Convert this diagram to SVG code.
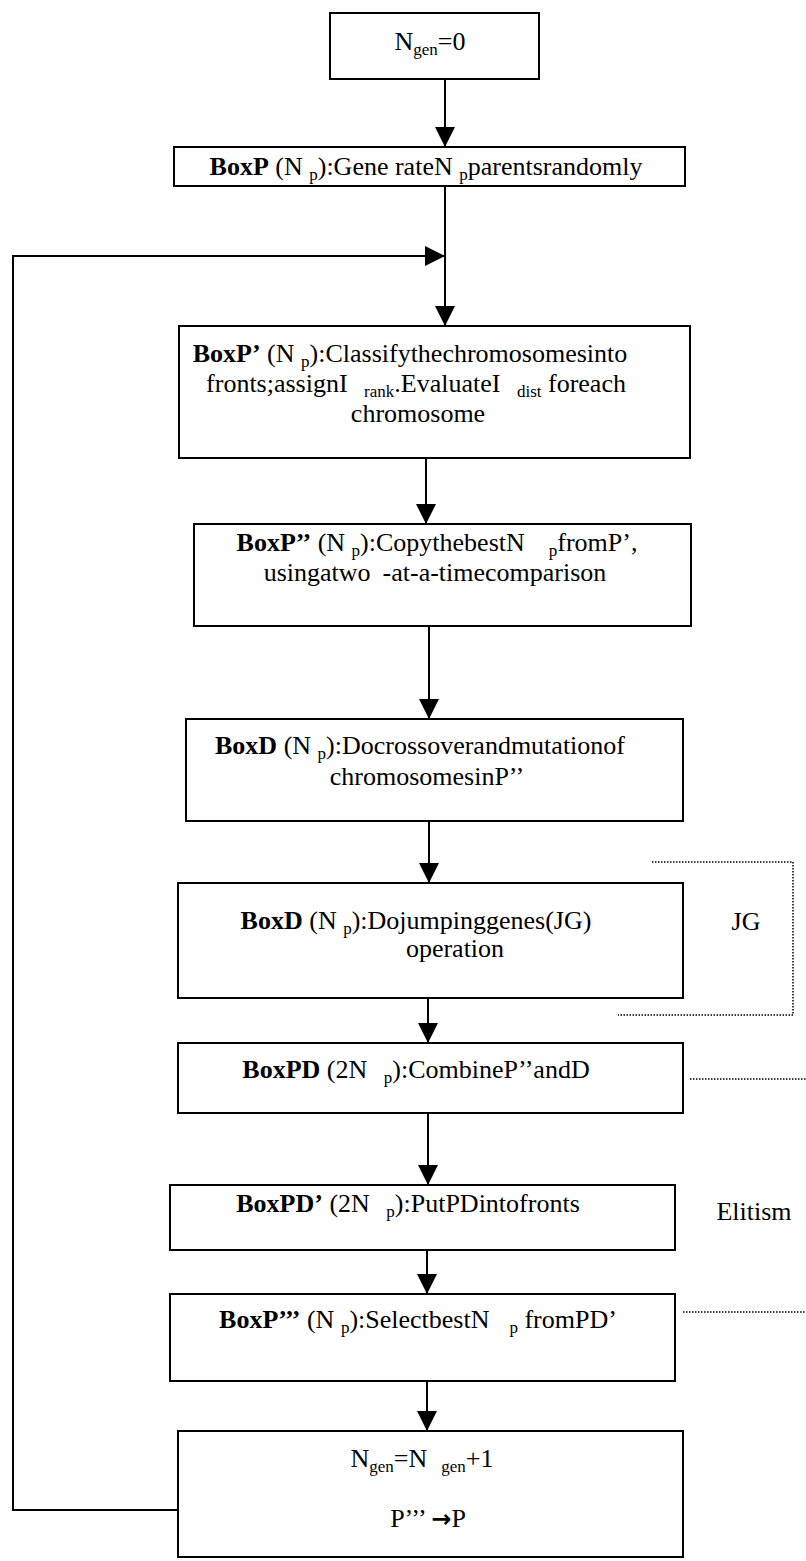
<svg xmlns="http://www.w3.org/2000/svg" width="806" height="1561" viewBox="0 0 806 1561">
<style>
.box{fill:#fff;stroke:#000;stroke-width:2}
.t{font-family:"Liberation Serif","Times New Roman",serif;font-size:26px;font-weight:normal;fill:#000}
.b{font-weight:bold}
.s{font-size:17px}
.arr{font-family:"DejaVu Sans",sans-serif;font-weight:bold;font-size:24px}
.ln{stroke:#000;stroke-width:2;fill:none}
.dot{stroke:#000;stroke-width:1.5;stroke-dasharray:1.5 1.5;fill:none}
</style>
<defs>
<marker id="ah" viewBox="0 0 20 20" refX="20" refY="10" markerWidth="20" markerHeight="20" markerUnits="userSpaceOnUse" orient="auto"><path d="M0,0 L20,10 L0,20 z" fill="#000"/></marker>
</defs>
<rect width="806" height="1561" fill="#fff"/>
<g id="connectors">
<path class="ln" d="M445,79 V147" marker-end="url(#ah)"/>
<path class="ln" d="M445,186 V326" marker-end="url(#ah)"/>
<path class="ln" d="M178,1510 H13 V256 H445" marker-end="url(#ah)"/>
<path class="ln" d="M426,458 V524" marker-end="url(#ah)"/>
<path class="ln" d="M429,626 V719" marker-end="url(#ah)"/>
<path class="ln" d="M429,821 V883" marker-end="url(#ah)"/>
<path class="ln" d="M428,998 V1043" marker-end="url(#ah)"/>
<path class="ln" d="M428,1113 V1185" marker-end="url(#ah)"/>
<path class="ln" d="M427,1250 V1294" marker-end="url(#ah)"/>
<path class="ln" d="M427,1381 V1431" marker-end="url(#ah)"/>
<path class="dot" d="M652,862 H793 V1015 H618"/>
<path class="dot" d="M690,1079 H806"/>
<path class="dot" d="M683,1312 H806"/>
</g>
<g id="n0">
<rect class="box" x="330" y="13" width="209" height="66"/>
<text class="t" x="430" y="50" text-anchor="middle">N<tspan class="s" dy="5">gen</tspan><tspan dy="-5">=0</tspan></text>
</g>
<g id="n1">
<rect class="box" x="174" y="147" width="511" height="39"/>
<text class="t" x="426" y="175" text-anchor="middle"><tspan class="b">BoxP</tspan> (N <tspan class="s" dy="5">p</tspan><tspan dy="-5">):Gene rateN </tspan><tspan class="s" dy="5">p</tspan><tspan dy="-5">parentsrandomly</tspan></text>
</g>
<g id="n2">
<rect class="box" x="179" y="326" width="511" height="132"/>
<text class="t" x="410" y="362" text-anchor="middle"><tspan class="b">BoxP’</tspan> (N <tspan class="s" dy="5">p</tspan><tspan dy="-5">):Classifythechromosomesinto</tspan></text>
<text class="t" x="416" y="392" text-anchor="middle">fronts;assignI <tspan class="s" dx="10" dy="5">rank</tspan><tspan dy="-5">.EvaluateI </tspan><tspan class="s" dx="10" dy="5">dist</tspan><tspan dy="-5"> foreach</tspan></text>
<text class="t" x="418" y="422" text-anchor="middle">chromosome</text>
</g>
<g id="n3">
<rect class="box" x="194" y="524" width="497" height="102"/>
<text class="t" x="437" y="551" text-anchor="middle"><tspan class="b">BoxP’’</tspan> (N <tspan class="s" dy="5">p</tspan><tspan dy="-5">):CopythebestN</tspan><tspan class="s" dx="24" dy="5">p</tspan><tspan dy="-5">fromP’,</tspan></text>
<text class="t" x="435" y="581" text-anchor="middle">usingatwo<tspan dx="12">-at-a-timecomparison</tspan></text>
</g>
<g id="n4">
<rect class="box" x="186" y="719" width="497" height="102"/>
<text class="t" x="420" y="754" text-anchor="middle"><tspan class="b">BoxD</tspan> (N <tspan class="s" dy="5">p</tspan><tspan dy="-5">):Docrossoverandmutationof</tspan></text>
<text class="t" x="427" y="785" text-anchor="middle">chromosomesinP’’</text>
</g>
<g id="n5">
<rect class="box" x="178" y="883" width="505" height="115"/>
<text class="t" x="416" y="929" text-anchor="middle"><tspan class="b">BoxD</tspan> (N <tspan class="s" dy="5">p</tspan><tspan dy="-5">):Dojumpinggenes(JG)</tspan></text>
<text class="t" x="455" y="957" text-anchor="middle">operation</text>
</g>
<g id="n6">
<rect class="box" x="178" y="1043" width="505" height="70"/>
<text class="t" x="416" y="1078" text-anchor="middle"><tspan class="b">BoxPD</tspan> (2N <tspan class="s" dx="10" dy="5">p</tspan><tspan dy="-5">):CombineP’’andD</tspan></text>
</g>
<g id="n7">
<rect class="box" x="170" y="1185" width="505" height="65"/>
<text class="t" x="408" y="1212" text-anchor="middle"><tspan class="b">BoxPD’</tspan> (2N <tspan class="s" dx="10" dy="5">p</tspan><tspan dy="-5">):PutPDintofronts</tspan></text>
</g>
<g id="n8">
<rect class="box" x="170" y="1294" width="505" height="87"/>
<text class="t" x="418" y="1328" text-anchor="middle"><tspan class="b">BoxP’’’</tspan> (N <tspan class="s" dy="5">p</tspan><tspan dy="-5">):SelectbestN</tspan><tspan class="s" dx="20" dy="5">p</tspan><tspan dy="-5"> fromPD’</tspan></text>
</g>
<g id="n9">
<rect class="box" x="178" y="1431" width="505" height="126"/>
<text class="t" x="422" y="1467" text-anchor="middle">N<tspan class="s" dy="5">gen</tspan><tspan dy="-5">=N</tspan><tspan class="s" dx="14" dy="5">gen</tspan><tspan dy="-5">+1</tspan></text>
<text class="t" x="428" y="1527" text-anchor="middle">P’’’ <tspan class="arr">→</tspan>P</text>
</g>
<g id="labels">
<text class="t" x="746" y="930" text-anchor="middle">JG</text>
<text class="t" x="754" y="1220" text-anchor="middle">Elitism</text>
</g>
</svg>
